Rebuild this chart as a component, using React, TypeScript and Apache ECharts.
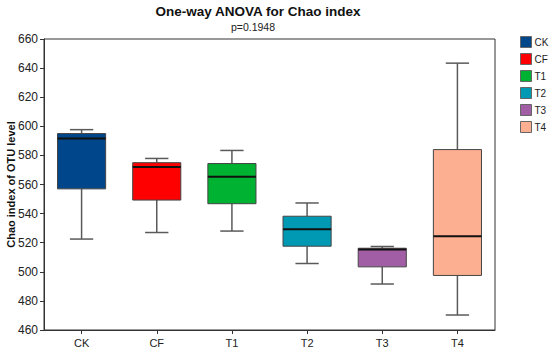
import React, { useEffect, useRef } from "react";
import * as echarts from "echarts";

const categories = ["CK", "CF", "T1", "T2", "T3", "T4"];
const lows = [522.5, 527, 528, 505.7, 491.6, 470.3];
const q1s = [557, 549.3, 546.8, 517.6, 503.4, 497.5];
const medians = [591.6, 572, 565.3, 529.2, 515.3, 524.5];
const q3s = [595, 575, 574.4, 538.2, 516.2, 584];
const highs = [597.7, 577.9, 583.4, 547.3, 517.4, 643.4];
const colors = ["#00468B", "#FF0000", "#00B231", "#0099B4", "#A25EA5", "#FDAF91"];
const yTicks = { min: 460, max: 660, interval: 20 };

const FONT = "'Liberation Sans', Arial, Helvetica, sans-serif";

export default function App() {
  const ref = useRef<HTMLDivElement>(null);
  useEffect(() => {
    if (!ref.current) return;
    const chart = echarts.init(ref.current, null, { renderer: "svg" });

    const renderItem = (params: any, api: any) => {
      const idx = api.value(0);
      const band = api.size([1, 0])[0];
      const cx = api.coord([idx, yTicks.min])[0];
      const yLow = api.coord([idx, api.value(1)])[1];
      const yQ1 = api.coord([idx, api.value(2)])[1];
      const yMed = api.coord([idx, api.value(3)])[1];
      const yQ3 = api.coord([idx, api.value(4)])[1];
      const yHigh = api.coord([idx, api.value(5)])[1];
      const halfBox = band * 0.32;
      const halfCap = band * 0.155;
      const color = colors[params.seriesIndex];
      const wStyle = { stroke: "#5a5a5a", lineWidth: 1.5 };
      return {
        type: "group",
        children: [
          { type: "line", shape: { x1: cx, y1: yHigh, x2: cx, y2: yQ3 }, style: wStyle },
          { type: "line", shape: { x1: cx, y1: yQ1, x2: cx, y2: yLow }, style: wStyle },
          { type: "line", shape: { x1: cx - halfCap, y1: yHigh, x2: cx + halfCap, y2: yHigh }, style: wStyle },
          { type: "line", shape: { x1: cx - halfCap, y1: yLow, x2: cx + halfCap, y2: yLow }, style: wStyle },
          {
            type: "rect",
            shape: { x: cx - halfBox, y: yQ3, width: halfBox * 2, height: yQ1 - yQ3 },
            style: { fill: color, stroke: "#444", lineWidth: 1 },
          },
          {
            type: "line",
            shape: { x1: cx - halfBox, y1: yMed, x2: cx + halfBox, y2: yMed },
            style: { stroke: "#111", lineWidth: 2 },
          },
        ],
      };
    };

    chart.setOption({
      animation: false,
      textStyle: { fontFamily: FONT },
      graphic: [
        {
          type: "text",
          x: 258,
          y: 11,
          style: {
            text: "One-way ANOVA for Chao index",
            font: `bold 13.5px ${FONT}`,
            fill: "#111",
            textAlign: "center",
            textVerticalAlign: "middle",
          },
        },
        {
          type: "text",
          x: 253,
          y: 27,
          style: {
            text: "p=0.1948",
            font: `10.5px ${FONT}`,
            fill: "#222",
            textAlign: "center",
            textVerticalAlign: "middle",
          },
        },
      ],
      legend: {
        orient: "vertical",
        left: 520,
        top: 36,
        icon: "rect",
        itemWidth: 11,
        itemHeight: 11,
        itemGap: 5,
        padding: 0,
        textStyle: { fontSize: 10, color: "#222", lineHeight: 11, fontFamily: FONT, padding: [0, 0, 0, -2] },
        itemStyle: { borderColor: "#666", borderWidth: 1 },
        data: categories,
      },
      grid: {
        left: 44,
        right: 55,
        top: 39,
        bottom: 19,
        show: true,
        borderColor: "#333",
        borderWidth: 1,
        outerBoundsMode: "none",
        containLabel: false,
      },
      xAxis: {
        type: "category",
        data: categories,
        boundaryGap: true,
        axisLine: { show: true, lineStyle: { color: "#333", width: 1 } },
        axisTick: { show: true, alignWithLabel: true, length: 4, lineStyle: { color: "#333" } },
        axisLabel: { fontSize: 11, color: "#222", margin: 7, fontFamily: FONT },
        splitLine: { show: false },
      },
      yAxis: {
        type: "value",
        min: yTicks.min,
        max: yTicks.max,
        interval: yTicks.interval,
        name: "Chao index of OTU level",
        nameLocation: "middle",
        nameGap: 28,
        nameMoveOverlap: false,
        nameTextStyle: { fontSize: 11, fontWeight: "bold", color: "#111", fontFamily: FONT },
        axisLine: { show: true, lineStyle: { color: "#333", width: 1 } },
        axisTick: { show: true, length: 4, lineStyle: { color: "#333" } },
        axisLabel: { fontSize: 12, color: "#222", margin: 6, fontFamily: FONT },
        splitLine: { show: false },
      },
      series: categories.map((c, i) => ({
        type: "custom",
        name: c,
        renderItem,
        itemStyle: { color: colors[i] },
        encode: { x: 0, y: [1, 2, 3, 4, 5] },
        data: [[i, lows[i], q1s[i], medians[i], q3s[i], highs[i]]],
      })),
    });
    return () => chart.dispose();
  }, []);
  return (
    <div
      ref={ref}
      style={{ position: "fixed", left: 0, top: 0, width: 550, height: 349, background: "#fff" }}
    />
  );
}
